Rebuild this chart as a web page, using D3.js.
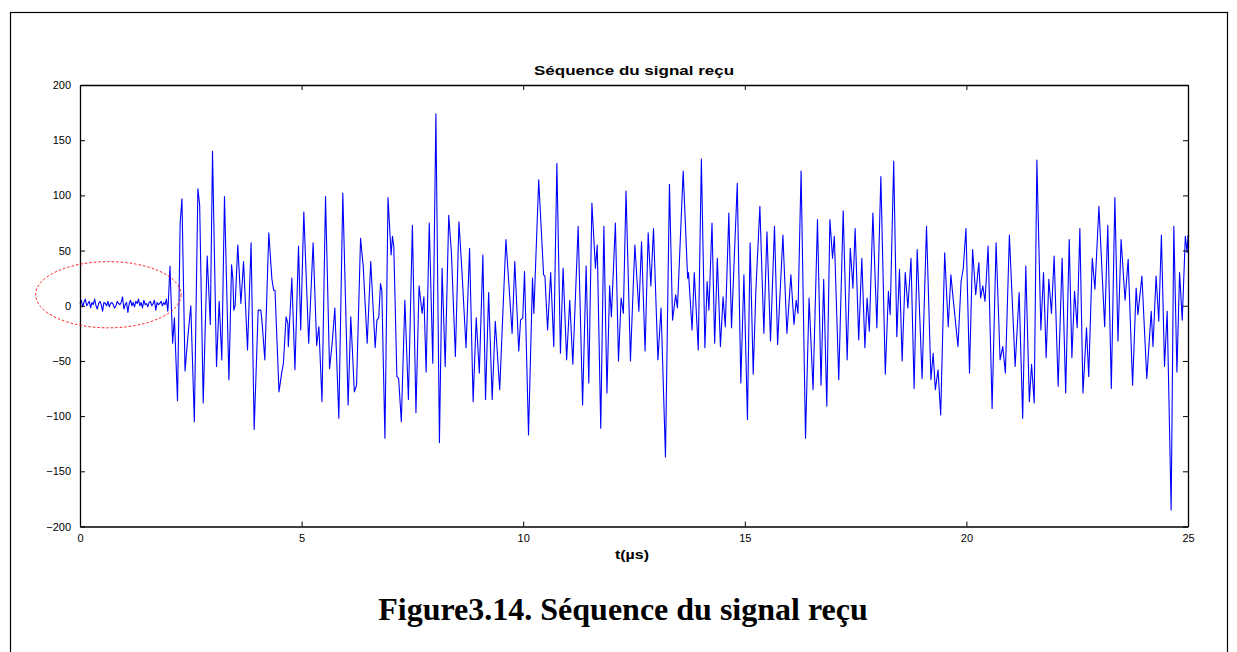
<!DOCTYPE html>
<html><head><meta charset="utf-8">
<script src="https://cdn.jsdelivr.net/npm/d3@7/dist/d3.min.js"></script>
<style>body{margin:0;background:#fff}svg{display:block}</style>
</head><body><svg id="c" width="1237" height="652"></svg>
<script>
const title = "Séquence du signal reçu";
const xLabel = "t(µs)";
const caption = "Figure3.14. Séquence du signal reçu";
const xTicks = [0,5,10,15,20,25];
const yTicks = [-200,-150,-100,-50,0,50,100,150,200];

// low-level noise before the echo arrives (t = 0 .. 1.98, step 0.03)
const noiseStep = 0.03;
const noiseVals = [2,5,-1,3,6,0,2,4,-2,3,1,6,0,-3,2,4,1,-5,3,2,0,4,-1,2,3,1,-2,0,4,2,1,3,8,-3,1,3,-6,2,5,0,3,-1,4,2,6,0,3,-2,5,1,2,-1,3,4,0,2,5,-4,3,1,2,4,0,3,1,6,-5];

// received signal, main part (t in µs, amplitude)
const sigT = [1.99,2.03,2.09,2.13,2.20,2.26,2.30,2.37,2.43,2.50,2.58,2.66,2.70,2.78,2.87,2.94,2.99,3.08,3.14,3.20,3.26,3.36,3.42,3.45,3.47,3.50,3.56,3.63,3.69,3.78,3.86,3.93,4.02,4.08,4.11,4.17,4.26,4.33,4.37,4.40,4.49,4.55,4.59,4.65,4.69,4.70,4.78,4.85,4.93,4.98,5.05,5.16,5.26,5.34,5.39,5.46,5.54,5.63,5.69,5.75,5.84,5.93,6.05,6.11,6.19,6.24,6.33,6.39,6.48,6.56,6.66,6.70,6.74,6.78,6.81,6.88,6.95,7.02,7.05,7.08,7.15,7.19,7.25,7.33,7.41,7.50,7.58,7.65,7.72,7.76,7.81,7.88,7.96,8.03,8.11,8.17,8.24,8.32,8.38,8.47,8.55,8.62,8.71,8.79,8.87,8.94,9.01,9.09,9.15,9.22,9.30,9.37,9.47,9.61,9.75,9.81,9.90,9.94,9.99,10.03,10.12,10.21,10.24,10.35,10.46,10.49,10.55,10.62,10.69,10.76,10.84,10.90,10.98,11.05,11.12,11.24,11.34,11.42,11.48,11.55,11.63,11.67,11.75,11.82,11.89,11.95,11.99,12.08,12.15,12.21,12.26,12.32,12.42,12.48,12.52,12.61,12.67,12.75,12.82,12.88,12.94,13.04,13.11,13.21,13.30,13.37,13.44,13.48,13.61,13.71,13.73,13.81,13.86,13.95,14.02,14.10,14.15,14.19,14.26,14.32,14.38,14.45,14.51,14.56,14.64,14.70,14.83,14.91,14.98,15.06,15.12,15.19,15.25,15.34,15.43,15.50,15.58,15.67,15.74,15.86,15.95,16.04,16.11,16.16,16.20,16.27,16.37,16.45,16.54,16.64,16.72,16.78,16.85,16.92,16.98,17.02,17.12,17.22,17.31,17.38,17.44,17.49,17.57,17.64,17.71,17.76,17.81,17.89,17.98,18.07,18.17,18.24,18.28,18.36,18.43,18.49,18.55,18.62,18.68,18.75,18.82,18.89,19.00,19.10,19.20,19.25,19.30,19.36,19.42,19.51,19.59,19.65,19.69,19.81,19.88,19.93,19.99,20.07,20.14,20.21,20.28,20.32,20.37,20.42,20.49,20.58,20.67,20.76,20.82,20.88,20.97,21.10,21.19,21.27,21.34,21.42,21.47,21.53,21.59,21.68,21.74,21.80,21.86,21.92,21.98,22.07,22.16,22.24,22.32,22.38,22.44,22.50,22.56,22.63,22.71,22.76,22.84,22.90,22.99,23.12,23.19,23.27,23.35,23.42,23.49,23.58,23.65,23.75,23.83,23.87,23.96,24.07,24.17,24.21,24.28,24.34,24.40,24.47,24.53,24.62,24.68,24.75,24.81,24.87,24.94,24.98,25.00];
const sigV = [0,36,-34,-11,-86,75,97,-59,-30,0,-105,106,91,-88,45,-17,140,-55,4,-49,99,-67,37,24,-4,0,55,2,40,-40,57,-112,-4,-4,-16,-49,66,24,14,14,-78,-61,-52,-10,-16,-37,25,-58,54,-22,85,-34,57,-36,-19,-87,99,-57,-34,-2,-102,102,-90,-10,-78,-72,61,36,-34,40,-38,-13,-11,20,14,-120,98,46,63,54,-64,-66,-105,5,-85,73,-97,18,-7,8,-60,75,-52,174,-124,34,-55,82,48,-46,76,30,-38,52,-87,-11,-61,46,-85,12,-85,-14,-76,60,-25,40,-41,-13,-11,31,-117,25,-7,114,28,27,-22,30,-37,129,-43,34,-49,5,-53,72,-90,36,-70,93,34,55,-111,72,-79,18,-10,75,-50,7,-7,104,-50,15,55,-5,58,-41,66,18,70,-49,-2,-137,110,-13,10,-2,122,25,30,-22,30,-40,133,-38,22,-4,75,-34,43,-37,8,-19,84,-20,111,-70,28,-103,57,-62,14,90,-25,67,-32,72,-35,64,-25,28,-17,5,-7,122,-120,7,-76,78,-72,24,-91,78,43,63,-67,86,-49,52,16,70,-31,43,-38,7,-23,84,-20,117,-62,13,-8,131,-28,33,-50,30,-2,43,-75,51,-66,72,-67,-43,-76,-58,-99,48,-19,28,11,-37,22,34,70,-61,51,10,39,7,18,4,54,-93,57,-49,-37,-61,64,-55,12,-102,36,-87,-53,-88,132,-22,30,-47,24,-7,45,-73,43,-79,60,-47,13,-20,70,-79,-20,-64,43,15,90,-19,73,-75,98,-32,60,5,42,-72,16,-8,27,-66,-5,-37,27,-14,64,-55,-5,-185,72,-60,30,-13,63,48,64];

const svg = d3.select("#c");
const m = {l:80, r:1188, t:85, b:526.5};

// outer figure frame
svg.append("rect").attr("x",10.5).attr("y",12.5).attr("width",1217).attr("height",700)
  .attr("fill","none").attr("stroke","#000").attr("stroke-width",1.2);

const x = d3.scaleLinear().domain([0,25]).range([m.l,m.r]);
const y = d3.scaleLinear().domain([-200,200]).range([m.b,m.t]);

const data = noiseVals.map((v,i)=>({t:i*noiseStep, v}))
  .concat(sigT.map((t,i)=>({t, v:sigV[i]})));

const line = d3.line().x(d=>x(d.t)).y(d=>y(d.v));
svg.append("path").datum(data).attr("d",line).attr("fill","none")
  .attr("stroke","#0000ff").attr("stroke-width",1.1).attr("stroke-linejoin","round");

// axes (MATLAB style: box with inward ticks on all sides)
const font = "'Liberation Sans', Arial, sans-serif";
const gB = svg.append("g").attr("transform",`translate(0,${m.b})`)
  .call(d3.axisBottom(x).tickValues(xTicks).tickSizeInner(-5).tickSizeOuter(0).tickPadding(8));
const gT = svg.append("g").attr("transform",`translate(0,${m.t})`)
  .call(d3.axisTop(x).tickValues(xTicks).tickSizeInner(-5).tickSizeOuter(0).tickFormat(""));
const gL = svg.append("g").attr("transform",`translate(${m.l},0)`)
  .call(d3.axisLeft(y).tickValues(yTicks).tickSizeInner(-5).tickSizeOuter(0).tickPadding(9));
const gR = svg.append("g").attr("transform",`translate(${m.r},0)`)
  .call(d3.axisRight(y).tickValues(yTicks).tickSizeInner(-5).tickSizeOuter(0).tickFormat(""));
[gB,gT,gL,gR].forEach(g=>{
  g.selectAll("path").attr("stroke","#000").attr("stroke-width",1.3);
  g.selectAll("line").attr("stroke","#000");
  g.selectAll("text").attr("font-family",font).attr("font-size",11).attr("fill","#000");
});

// title & labels
svg.append("text").attr("x",(m.l+m.r)/2).attr("y",75).attr("text-anchor","middle")
  .attr("font-family",font).attr("font-weight","bold").attr("font-size",13)
  .attr("textLength",200).attr("lengthAdjust","spacingAndGlyphs").text(title);
svg.append("text").attr("x",632).attr("y",559).attr("text-anchor","middle")
  .attr("font-family",font).attr("font-weight","bold").attr("font-size",12.5)
  .attr("textLength",34).attr("lengthAdjust","spacingAndGlyphs").text(xLabel);
svg.append("text").attr("x",623).attr("y",620).attr("text-anchor","middle")
  .attr("font-family","'Liberation Serif','Times New Roman',serif").attr("font-weight","bold")
  .attr("font-size",32).text(caption);

// dashed red ellipse around the noise segment
svg.append("ellipse").attr("cx",x(0.64)).attr("cy",y(10)).attr("rx",x(1.64)-x(0)).attr("ry",y(-20)-y(10))
  .attr("fill","none").attr("stroke","#ff0000").attr("stroke-width",0.9).attr("stroke-dasharray","2.5,2");
</script></body></html>
